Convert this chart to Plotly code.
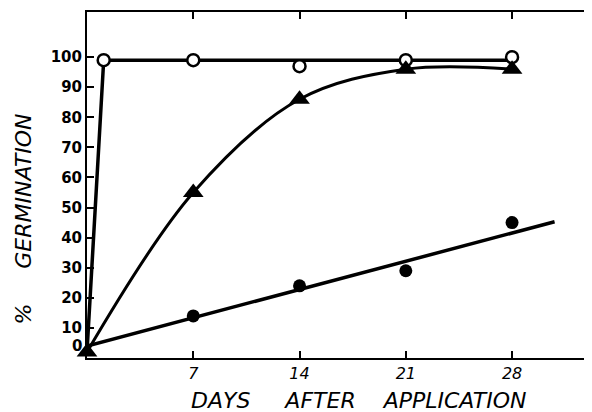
import plotly.graph_objects as go

# Observed data
days = [0, 7, 14, 21, 28]
open_x = [1.1, 7, 14, 21, 28]
open_y = [99, 99, 97, 99, 100]
tri_y = [2, 55, 86, 96, 96]
dot_x = [7, 14, 21, 28]
dot_y = [14, 24, 29, 45]

# Fitted curves drawn on the figure
open_curve_x = [0, 1.1, 28]
open_curve_y = [2, 99, 99]
fit_x = [0, 30.8]
fit_y = [4, 45.3]

x_ticks = [7, 14, 21, 28]
y_ticks = [10, 20, 30, 40, 50, 60, 70, 80, 90, 100]
x_title = "DAYS &nbsp;&nbsp;&nbsp; AFTER &nbsp;&nbsp; APPLICATION"
y_title = "% &nbsp;&nbsp;&nbsp; GERMINATION"

fig = go.Figure()
fig.add_trace(go.Scatter(x=open_curve_x, y=open_curve_y, mode="lines", cliponaxis=False,
                         line=dict(color="black", width=3.5), hoverinfo="skip"))
fig.add_trace(go.Scatter(x=days, y=tri_y, mode="lines", cliponaxis=False,
                         line=dict(color="black", width=3, shape="spline", smoothing=1.0),
                         hoverinfo="skip"))
fig.add_trace(go.Scatter(x=fit_x, y=fit_y, mode="lines", cliponaxis=False,
                         line=dict(color="black", width=3.5), hoverinfo="skip"))
fig.add_trace(go.Scatter(x=open_x, y=open_y, mode="markers", cliponaxis=False,
                         marker=dict(symbol="circle", size=12, color="white",
                                     line=dict(color="black", width=2.5))))
fig.add_trace(go.Scatter(x=days, y=tri_y, mode="markers", cliponaxis=False,
                         marker=dict(symbol="triangle-up", size=18, color="black")))
fig.add_trace(go.Scatter(x=dot_x, y=dot_y, mode="markers", cliponaxis=False,
                         marker=dict(symbol="circle", size=13, color="black")))

fig.add_annotation(x=0, y=4, xref="x", yref="y", text="0", showarrow=False,
                   xanchor="right", xshift=-3,
                   font=dict(family="DejaVu Sans", size=15, color="black", weight="bold"))
# axis titles
fig.add_annotation(x=0.54, y=-0.08, xref="paper", yref="paper", text=x_title,
                   showarrow=False, xanchor="center", yanchor="top",
                   font=dict(family="DejaVu Sans", size=22, color="black", style="italic"))
fig.add_annotation(x=-0.125, y=0.40, xref="paper", yref="paper", text=y_title,
                   showarrow=False, xanchor="center", yanchor="middle", textangle=-90,
                   font=dict(family="DejaVu Sans", size=22, color="black", style="italic"))

fig.update_layout(
    width=584, height=404,
    margin=dict(l=79, r=1, t=4, b=54),
    paper_bgcolor="white", plot_bgcolor="white",
    showlegend=False,
    xaxis=dict(range=[0, 33.2], tickvals=x_ticks, ticks="inside", ticklen=7, tickwidth=1.5,
               tickcolor="black", showline=True, linewidth=2, linecolor="black",
               mirror="ticks", showgrid=False, zeroline=False, automargin=False,
               tickfont=dict(family="DejaVu Sans", size=16, color="black", style="italic")),
    yaxis=dict(range=[0, 115], tickvals=y_ticks, ticks="inside", ticklen=7, tickwidth=1.5,
               tickcolor="black", showline=True, linewidth=2, linecolor="black",
               mirror="ticks", showgrid=False, zeroline=False, automargin=False,
               tickfont=dict(family="DejaVu Sans", size=15, color="black", weight="bold")),
)

fig.write_html("out.html")
